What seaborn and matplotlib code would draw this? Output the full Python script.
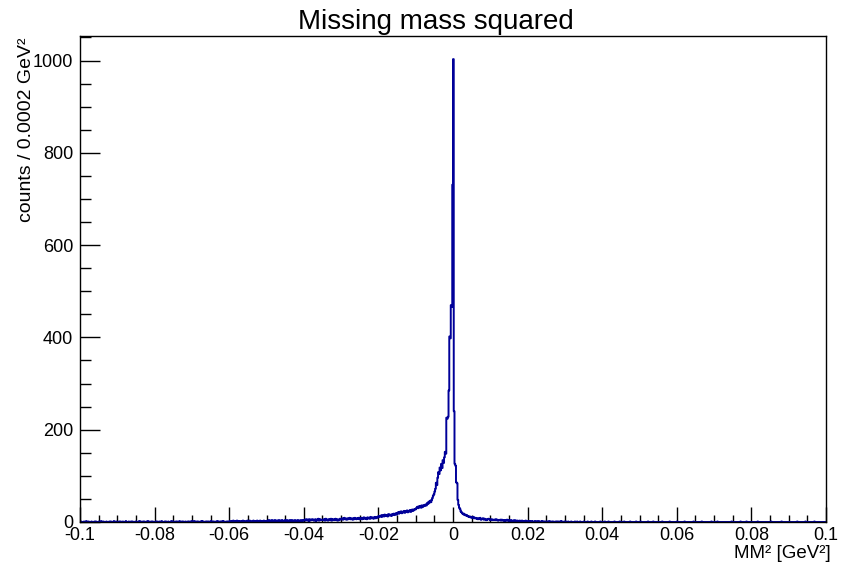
import numpy as np
import pandas as pd
import seaborn as sns
import matplotlib
matplotlib.use("Agg")
import matplotlib.pyplot as plt
from matplotlib.ticker import MultipleLocator, FuncFormatter

# binning: 1000 bins of 0.0002 GeV^2 between -0.1 and 0.1
X_MIN, X_MAX = -0.1, 0.1
N_BINS = 1000

# counts per bin, left to right
# -0.1 .. -0.06 (bins 0-199), one digit per bin
LEFT_FAR = ("0100010020010001000101000"
            "1002001000100010100020010"
            "0010100100020001001010001"
            "1000201001010002010010100"
            "0101001002000101001000201"
            "1001010020010100100101002"
            "0102001010010201001010100"
            "2010100102001010201001010")
# -0.06 .. -0.03 (bins 200-349), one digit per bin
LEFT_MID = ("1210231201320122013102213"
            "2031221302123201321203122"
            "2324132423142332413243214"
            "3242314324232413342314324"
            "4536452635465346254736455"
            "5463745365473564574635476")
# -0.03 .. -0.01 (bins 350-449)
LEFT_NEAR = [6, 8, 5, 7, 9, 6, 7, 5, 8, 6, 7, 9, 6, 8, 7, 5, 8, 6, 9, 7, 6, 8, 7, 9, 6,
             8, 7, 9, 6, 8, 10, 7, 9, 8, 6, 10, 8, 9, 7, 11, 8, 9, 10, 7, 9, 11, 8, 10, 9, 12,
             11, 13, 12, 14, 11, 15, 13, 12, 16, 14, 13, 15, 12, 17, 14, 16, 15, 13, 17, 16, 18, 15, 17, 19, 16,
             19, 21, 18, 22, 20, 23, 19, 22, 21, 24, 20, 23, 22, 25, 21, 24, 23, 26, 22, 25, 27, 24, 26, 28, 27]
# -0.01 .. 0.006 (bins 450-529), the peak
PEAK = [29, 31, 33, 30, 34, 32, 35, 31, 36, 33, 34, 37, 35, 38, 36,
        41, 39, 44, 42, 46, 43, 48,
        52, 57, 60, 66, 72, 85, 80, 96, 108,
        104, 118, 112, 126, 117, 134, 128, 140,
        152, 148,
        226, 224, 228,
        285,
        402, 398,
        470, 466,
        731,
        1003,
        240,
        126, 122,
        86, 84,
        48, 37, 31, 28, 23, 21,
        19, 17, 18, 15, 16, 14, 15, 13, 12,
        11, 12, 10, 11, 9, 10, 11, 8, 9]
# 0.006 .. 0.02 (bins 530-599), one digit per bin
RIGHT_NEAR = ("9786879567857645676546545"
              "5464534453543424353423432"
              "32423132232131221312")
# 0.02 .. 0.1 (bins 600-999), one digit per bin
RIGHT_FAR = ("2120121011201020110201011"
             "1010200101001010100201001"
             "0100100010000100100010000"
             "1000010000100001000000100"
             "0001000010000000100000010"
             "0000100000001000000010000"
             "0100000000010000001000000"
             "0000010000000001000000000"
             "1000000000100000000000100"
             "0000000010000000000001000"
             "0000100000000000000000010"
             "0000000000100000001000000"
             "0000000010000000000000000"
             "0100000000000001000000000"
             "0000000000010000000000100"
             "0000000001000000000000000")

TITLE = "Missing mass squared"
X_LABEL = "MM² [GeV²]"
Y_LABEL = "counts / 0.0002 GeV²"
LINE_COLOR = "#000099"


def digits(s):
    return [int(c) for c in s]


counts = digits(LEFT_FAR) + digits(LEFT_MID) + LEFT_NEAR + PEAK + digits(RIGHT_NEAR) + digits(RIGHT_FAR)
assert len(counts) == N_BINS, len(counts)

edges = np.linspace(X_MIN, X_MAX, N_BINS + 1)
centers = 0.5 * (edges[:-1] + edges[1:])
df = pd.DataFrame({"mm2": centers, "counts": counts})

sns.set_style("white")
plt.rcParams["font.family"] = ["Liberation Sans", "DejaVu Sans"]
plt.rcParams["text.color"] = "black"
plt.rcParams["axes.labelcolor"] = "black"

fig = plt.figure(figsize=(8.47, 5.70), dpi=100)
ax = fig.add_axes([80 / 847, 48 / 570, 746 / 847, 486 / 570])

sns.histplot(data=df, x="mm2", weights="counts", bins=N_BINS, binrange=(X_MIN, X_MAX),
             element="step", fill=False, color=LINE_COLOR, linewidth=1.4, ax=ax)

ax.set_xlim(X_MIN, X_MAX)
ax.set_ylim(0, max(counts) * 1.05)

ax.xaxis.set_major_locator(MultipleLocator(0.02))
ax.xaxis.set_minor_locator(MultipleLocator(0.005))
ax.yaxis.set_major_locator(MultipleLocator(200))
ax.yaxis.set_minor_locator(MultipleLocator(50))


def fmt(v, pos):
    v = round(v, 6)
    if abs(v) < 1e-9:
        return "0"
    return f"{v:g}"


ax.xaxis.set_major_formatter(FuncFormatter(fmt))
ax.yaxis.set_major_formatter(FuncFormatter(fmt))

ax.tick_params(which="both", direction="in", bottom=True, left=True, top=False, right=False,
               color="black", labelcolor="black")
ax.tick_params(axis="x", which="major", length=10.5, width=1, pad=3.5, labelsize=13)
ax.tick_params(axis="x", which="minor", length=5.3, width=1)
ax.tick_params(axis="y", which="major", length=14.4, width=1, pad=5, labelsize=13)
ax.tick_params(axis="y", which="minor", length=8, width=1)

for sp in ax.spines.values():
    sp.set_visible(True)
    sp.set_color("black")
    sp.set_linewidth(1)

ax.set_xlabel(X_LABEL, loc="right", fontsize=13.5)
ax.xaxis.set_label_coords(1.007, -0.048)
ax.set_ylabel(Y_LABEL, loc="top", fontsize=14)
ax.yaxis.set_label_coords(-0.0605, 0.996)

fig.text(436 / 847, 1 - 22 / 570, TITLE, ha="center", va="center", fontsize=20, color="black")

fig.savefig("out.png", dpi=100)
